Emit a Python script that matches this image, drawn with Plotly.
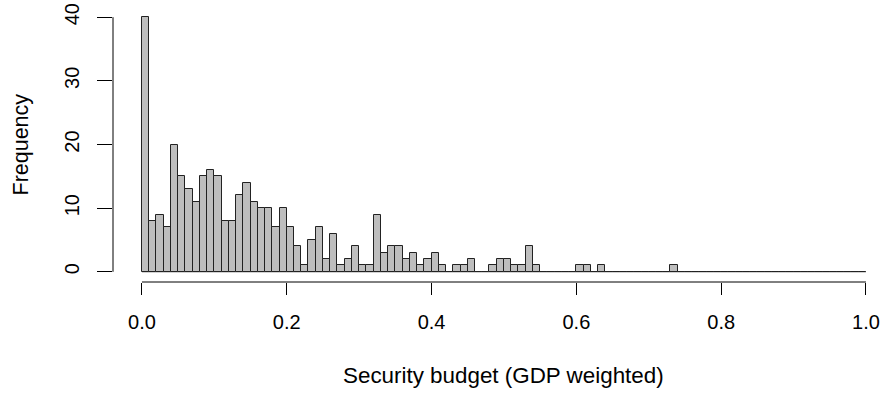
import plotly.graph_objects as go

# Histogram of security budget (GDP weighted): 100 bins of width 0.01 on [0, 1]
bin_start = 0.0
bin_width = 0.01
counts = [
    40, 8, 9, 7, 20, 15, 13, 11, 15, 16,
    15, 8, 8, 12, 14, 11, 10, 10, 7, 10,
    7, 4, 1, 5, 7, 2, 6, 1, 2, 4,
    1, 1, 9, 3, 4, 4, 2, 3, 1, 2,
    3, 1, 0, 1, 1, 2, 0, 0, 1, 2,
    2, 1, 1, 4, 1, 0, 0, 0, 0, 0,
    1, 1, 0, 1, 0, 0, 0, 0, 0, 0,
    0, 0, 0, 1, 0, 0, 0, 0, 0, 0,
    0, 0, 0, 0, 0, 0, 0, 0, 0, 0,
    0, 0, 0, 0, 0, 0, 0, 0, 0, 0,
]
x_ticks = [0.0, 0.2, 0.4, 0.6, 0.8, 1.0]
x_tick_labels = ["0.0", "0.2", "0.4", "0.6", "0.8", "1.0"]
y_ticks = [0, 10, 20, 30, 40]
x_title = "Security budget (GDP weighted)"
y_title = "Frequency"

centers = [bin_start + (i + 0.5) * bin_width for i in range(len(counts))]
bin_end = bin_start + bin_width * len(counts)

FONT = "Liberation Sans, Arial, sans-serif"
FS = 20

fig = go.Figure(
    go.Bar(
        x=centers,
        y=counts,
        width=bin_width,
        marker=dict(color="#BEBEBE", line=dict(color="#222222", width=1)),
        hoverinfo="x+y",
    )
)

W, H = 884, 395
ml, mr, mt, mb = 113, 0, 7, 113
plot_w = W - ml - mr
px_per_unit = 724.0  # horizontal pixels per unit of x
x_lo = -0.04
x_hi = x_lo + plot_w / px_per_unit

fig.update_layout(
    width=W,
    height=H,
    margin=dict(l=ml, r=mr, t=mt, b=mb),
    paper_bgcolor="white",
    plot_bgcolor="white",
    showlegend=False,
    bargap=0,
    font=dict(family=FONT, size=FS, color="black"),
    xaxis=dict(
        range=[x_lo, x_hi],
        tickmode="array",
        tickvals=x_ticks,
        ticktext=x_tick_labels,
        ticks="outside",
        ticklen=12,
        tickcolor="black",
        tickwidth=1,
        ticklabelstandoff=10,
        showline=False,
        showgrid=False,
        zeroline=False,
        tickfont=dict(family=FONT, size=FS, color="black"),
    ),
    yaxis=dict(
        range=[-1.6, 41.6],
        tickmode="array",
        tickvals=y_ticks,
        ticks="outside",
        ticklen=15,
        tickcolor="black",
        tickwidth=1,
        ticklabelstandoff=10,
        tickangle=-90,
        showline=False,
        showgrid=False,
        zeroline=False,
        tickfont=dict(family=FONT, size=FS, color="black"),
    ),
    shapes=[
        # detached axis lines spanning the tick range
        dict(type="line", xref="x", yref="paper", x0=x_ticks[0], x1=x_ticks[-1],
             y0=0, y1=0, line=dict(color="black", width=1)),
        dict(type="line", xref="paper", yref="y", x0=0, x1=0,
             y0=y_ticks[0], y1=y_ticks[-1], line=dict(color="black", width=1)),
        # baseline under empty bins
        dict(type="line", xref="x", yref="y", x0=bin_start, x1=bin_end,
             y0=0, y1=0, line=dict(color="#666666", width=1), layer="below"),
    ],
    annotations=[
        dict(text=x_title, xref="x", yref="paper", x=0.5, y=0,
             xanchor="center", yanchor="middle", yshift=-93, showarrow=False,
             font=dict(family=FONT, size=22.4, color="black")),
        dict(text=y_title, xref="paper", yref="y", x=0, y=20,
             xanchor="center", yanchor="middle", xshift=-93, textangle=-90,
             showarrow=False, font=dict(family=FONT, size=21.5, color="black")),
    ],
)

fig.write_html("out.html")
